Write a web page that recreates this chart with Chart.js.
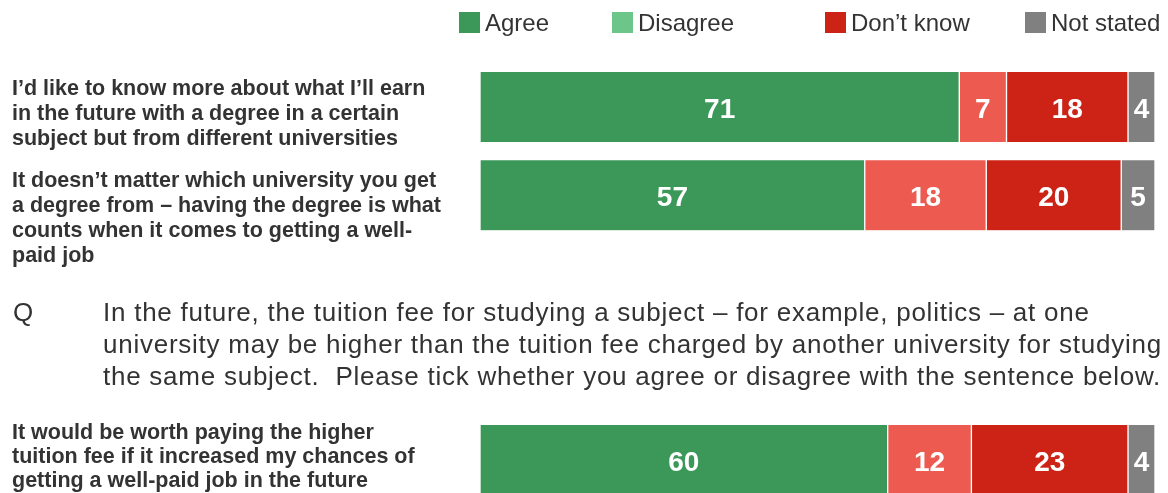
<!DOCTYPE html>
<html>
<head>
<meta charset="utf-8">
<script src="https://cdn.jsdelivr.net/npm/chart.js@4"></script>
<style>
  html, body { margin: 0; padding: 0; background: #fff; overflow: hidden; }
  #wrap { position: relative; width: 1168px; height: 511px; }
</style>
</head>
<body>
<div id="wrap"><canvas id="surveyChart"></canvas></div>
<script>
// statements (one line per array entry), two empty slots leave room for the question
const statements = [
    ["I\u2019d like to know more about what I\u2019ll earn", "in the future with a degree in a certain", "subject but from different universities"],
    ["It doesn\u2019t matter which university you get", "a degree from \u2013 having the degree is what", "counts when it comes to getting a well-", "paid job"],
    "",
    "",
    ["It would be worth paying the higher", "tuition fee if it increased my chances of", "getting a well-paid job in the future"]
];

const seriesNames = ["Agree", "Disagree", "Don\u2019t know", "Not stated"];

const agree     = [71, 57, null, null, 60.4];
const disagree  = [7, 18, null, null, 12.4];
const dontKnow  = [18, 20, null, null, 23.2];
const notStated = [4, 5, null, null, 4.0];

const questionLines = [
    "In the future, the tuition fee for studying a subject \u2013 for example, politics \u2013 at one",
    "university may be higher than the tuition fee charged by another university for studying",
    "the same subject.  Please tick whether you agree or disagree with the sentence below."
];

const FONT = "'Liberation Sans', Arial, Helvetica, sans-serif";
const TEXT = "#333333";

const barColors = ["#3C9859", "#EC5A50", "#CC2316", "#808080"];
// legend swatches (Disagree shown in light green in the original)
const legendColors = ["#3C9859", "#6CC68A", "#CC2316", "#808080"];

// custom legend along the top
const legendPlugin = {
    id: "topLegend",
    afterDraw(chart) {
        const ctx = chart.ctx;
        const xs = [459, 612, 825, 1025];
        ctx.save();
        ctx.font = "24px " + FONT;
        ctx.textBaseline = "alphabetic";
        ctx.textAlign = "left";
        seriesNames.forEach((name, i) => {
            ctx.fillStyle = legendColors[i];
            ctx.fillRect(xs[i], 12, 21, 21);
            ctx.fillStyle = TEXT;
            ctx.fillText(name, xs[i] + 26, 31);
        });
        ctx.restore();
    }
};

// statement labels on the left, top-aligned next to each bar
const statementPlugin = {
    id: "statementLabels",
    afterDraw(chart) {
        const ctx = chart.ctx;
        const y = chart.scales.y;
        const offsets = [-12.5, -8.5, 0, 0, -21];
        const steps = [25, 25, 25, 25, 24];
        ctx.save();
        ctx.font = "bold 21.5px " + FONT;
        ctx.fillStyle = TEXT;
        ctx.textAlign = "left";
        ctx.textBaseline = "alphabetic";
        statements.forEach((lines, i) => {
            if (!Array.isArray(lines)) return;
            const top = y.getPixelForValue(i) + offsets[i];
            lines.forEach((line, k) => ctx.fillText(line, 12, top + k * steps[i]));
        });

        // the question between the two groups
        ctx.font = "26px " + FONT;
        ctx.fillText("Q", 13, 321);
        ctx.letterSpacing = "0.75px";
        questionLines.forEach((line, k) => ctx.fillText(line, 103, 321 + k * 32));
        ctx.restore();
    }
};

// white values centred in each segment
const valuePlugin = {
    id: "segmentValues",
    afterDatasetsDraw(chart) {
        const ctx = chart.ctx;
        ctx.save();
        ctx.font = "bold 28px " + FONT;
        ctx.fillStyle = "#ffffff";
        ctx.textAlign = "center";
        ctx.textBaseline = "alphabetic";
        chart.data.datasets.forEach((ds, i) => {
            chart.getDatasetMeta(i).data.forEach((bar, j) => {
                const v = ds.data[j];
                if (v === null || v === undefined) return;
                const cx = (bar.x + bar.base) / 2;
                ctx.fillText(String(Math.round(v)), cx, bar.y + 11);
            });
        });
        ctx.restore();
    }
};

const ctx = document.getElementById("surveyChart").getContext("2d");

new Chart(ctx, {
    type: "bar",
    data: {
        labels: statements,
        datasets: [
            { label: seriesNames[0], data: agree,     backgroundColor: barColors[0] },
            { label: seriesNames[1], data: disagree,  backgroundColor: barColors[1] },
            { label: seriesNames[2], data: dontKnow,  backgroundColor: barColors[2] },
            { label: seriesNames[3], data: notStated, backgroundColor: barColors[3] }
        ]
    },
    options: {
        indexAxis: "y",
        responsive: true,
        maintainAspectRatio: false,
        animation: false,
        events: [],
        layout: { padding: { left: 480, right: 13, top: 63, bottom: 7 } },
        datasets: {
            bar: {
                barThickness: 70,
                borderColor: "#ffffff",
                borderWidth: { left: 1, right: 1, top: 0, bottom: 0 },
                borderSkipped: false
            }
        },
        scales: {
            x: { stacked: true, min: 0, max: 100, display: false },
            y: { stacked: true, display: false }
        },
        plugins: {
            legend: { display: false },
            tooltip: { enabled: false }
        }
    },
    plugins: [legendPlugin, statementPlugin, valuePlugin]
});
</script>
</body>
</html>
